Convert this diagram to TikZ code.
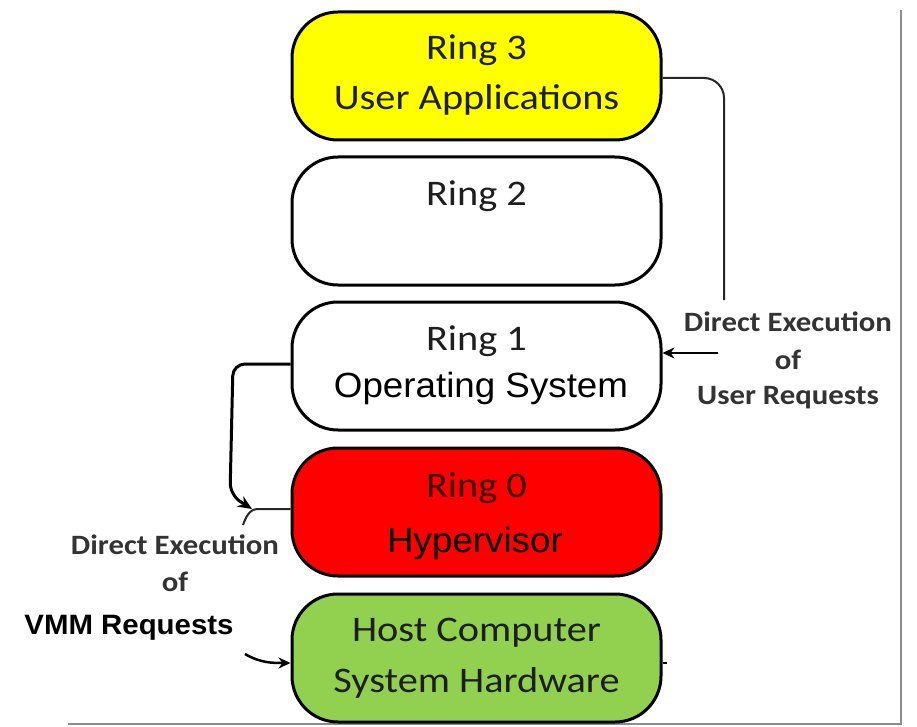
\documentclass[tikz,border=0pt]{standalone}
\usepackage{fontspec}
\usepackage{graphicx}
\setmainfont{Carlito}
\newfontfamily\arialf{Liberation Sans}
\usetikzlibrary{arrows.meta}
\definecolor{ringyellow}{HTML}{FFFF00}
\definecolor{ringred}{HTML}{FF0000}
\definecolor{ringgreen}{HTML}{92D050}
\definecolor{txtgray}{HTML}{1E1E1E}
\definecolor{lblgray}{HTML}{333333}
\definecolor{darkred}{HTML}{3A0000}
\definecolor{framegray}{HTML}{8C8C8C}
\newcommand{\hsr}[1]{\scalebox{1.12}[1]{#1}}
\newcommand{\hsl}[1]{\scalebox{1.1}[1]{#1}}
\newcommand{\hsa}[1]{\scalebox{1.05}[1]{#1}}
\tikzset{
  ringbox/.style={draw=black, line width=3pt, rounded corners=46pt,
    minimum width=369pt, minimum height=128pt, inner sep=0pt},
  ringtxt/.style={font=\fontsize{36}{40}\selectfont, text=txtgray, inner sep=0pt},
  aritxt/.style={font=\arialf\fontsize{35}{40}\selectfont, text=black, inner sep=0pt},
  lbl/.style={font=\bfseries\fontsize{28}{32}\selectfont, text=lblgray, inner sep=0pt},
  conn/.style={line width=2pt, draw=black!85},
}
\begin{document}
\begin{tikzpicture}[x=1pt,y=-1pt]
\useasboundingbox (0,0) rectangle (917,727);
% frame
\draw[framegray, line width=2.5pt] (901,10) -- (901,724) -- (68,724);
% boxes
\node[ringbox, fill=ringyellow] (r3) at (476.5,76) {};
\node[ringbox, fill=white] (r2) at (476.5,221) {};
\node[ringbox, fill=white] (r1) at (476.5,366) {};
\node[ringbox, fill=ringred] (r0) at (476.5,512) {};
\node[ringbox, fill=ringgreen] (hw) at (476.5,658) {};
% texts
\node[ringtxt] (t3a) at (476.5,50) {\hsr{Ring 3}};
\node[ringtxt] (t3b) at (476.5,100) {\hsr{User Applications}};
\node[ringtxt] (t2) at (476.5,196) {\hsr{Ring 2}};
\node[ringtxt] (t1a) at (476.5,341) {\hsr{Ring 1}};
\node[aritxt] (t1b) at (481,388) {\hsa{Operating System}};
\node[ringtxt, text=darkred] (t0a) at (476.5,488) {\hsr{Ring 0}};
\node[aritxt] (t0b) at (475,543) {\hsa{Hypervisor}};
\node[ringtxt] (tha) at (476.5,633) {\hsr{Host Computer}};
\node[ringtxt] (thb) at (476.5,683) {\hsr{System Hardware}};
% right labels
\node[lbl] (ra) at (788,322) {\hsl{Direct Execution}};
\node[lbl] (rb) at (788,360) {\hsl{of}};
\node[lbl] (rc) at (788,398) {\hsl{User Requests}};
% left labels
\node[lbl] (la) at (175,545) {\hsl{Direct Execution}};
\node[lbl] (lb) at (175,582) {\hsl{of}};
\node[font=\arialf\bfseries\fontsize{28}{30}\selectfont, inner sep=0pt] (lc) at (129,628) {\hsa{VMM Requests}};
% coordinates
\coordinate (c3) at (r3.east |- 0,78);
\coordinate (cdown) at (724,300);
\coordinate (astart) at (718,353);
\coordinate (c1) at (r1.west |- 0,364);
\coordinate (lhead) at (252,509);
\coordinate (c0) at (r0.west |- 0,509);
\coordinate (ctail) at (243,525);
\coordinate (hstart) at (245,654);
\coordinate (htip) at (r0.west |- 0,663);
\coordinate (htick) at (667,663);
% connectors
\draw[conn, rounded corners=20pt] (c3) -- (724,78) -- (cdown);
\draw[line width=2.5pt, -{Stealth[length=12pt,width=11pt]}] (astart) -- (r1.east |- astart);
\draw[line width=3pt, rounded corners=12pt, -{Stealth[length=14pt,width=12pt]}] (c1) -- (233,364) -- (230,495) -- (lhead);
\draw[conn] (c0) -- (258,509) to[out=180,in=70] (ctail);
\draw[line width=2.5pt, -{Stealth[length=12pt,width=11pt]}] (hstart) to[out=-30,in=180] (htip);
\draw[line width=2.5pt] (hw.east |- htick) -- (htick);
\end{tikzpicture}
\end{document}
